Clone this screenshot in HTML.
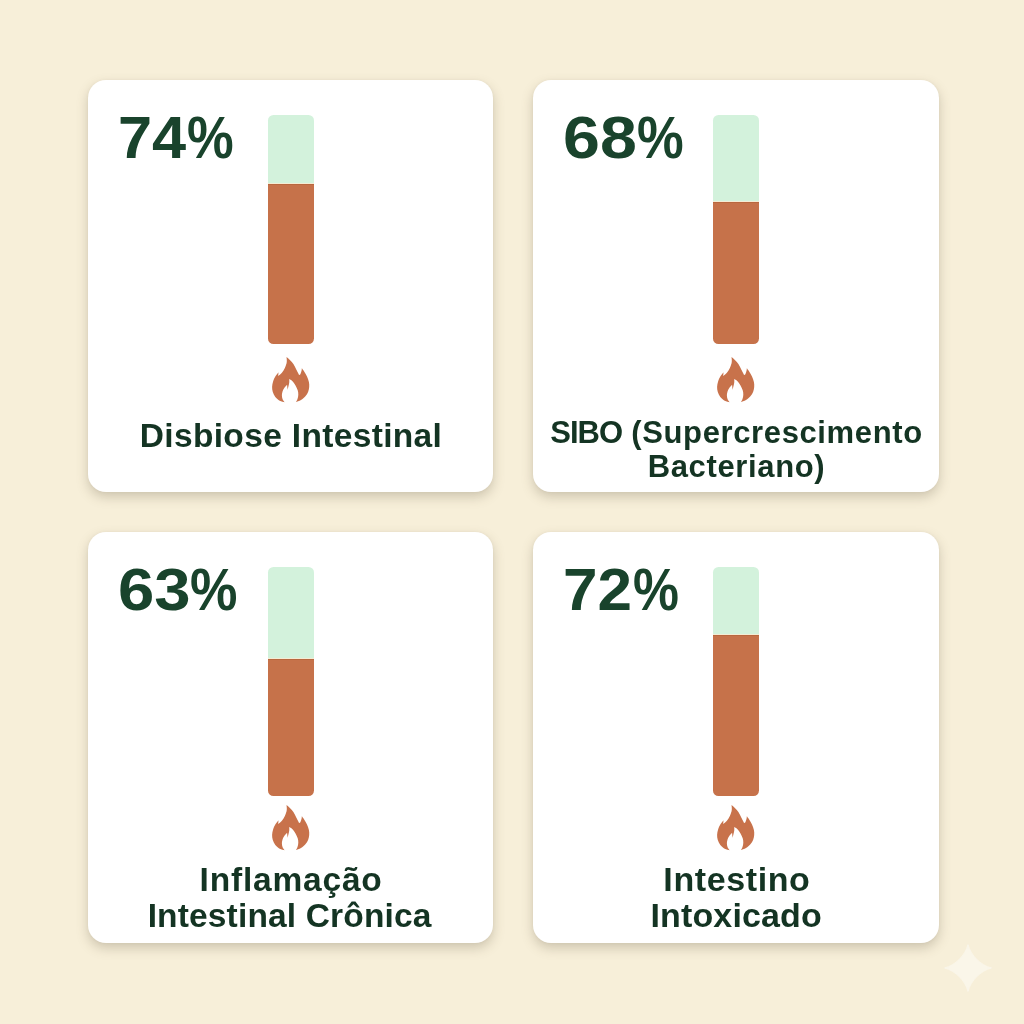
<!DOCTYPE html>
<html lang="pt-BR">
<head>
<meta charset="utf-8">
<title>Indicadores Intestinais</title>
<style>
  html, body { margin: 0; padding: 0; }
  body {
    width: 1024px; height: 1024px; overflow: hidden; position: relative;
    background: #f7efd9;
    font-family: "Liberation Sans", sans-serif;
    color: #173d29;
  }
  .card {
    position: absolute; background: #ffffff; border-radius: 18px;
    box-shadow: 0 5px 12px rgba(95, 85, 62, 0.27), 0 0 3px rgba(100, 85, 55, 0.05);
  }
  .pct {
    position: absolute; font-weight: bold; font-size: 59px; line-height: 59px;
    white-space: nowrap; color: #19432c; left: 0;
  }
  .pct span { position: absolute; top: 0; display: block; transform-origin: 0 0; }
  .bar {
    position: absolute; border-radius: 5.5px;
    background: linear-gradient(to bottom, #d3f2dc 0, #d3f2dc calc(var(--d) - 1px), #f4ecd4 calc(var(--d) - 1px), #f4ecd4 var(--d), #b9683f var(--d), #b9683f calc(var(--d) + 1px), #c6724a calc(var(--d) + 1px), #c6724a 100%);
  }
  .flame { position: absolute; width: 50px; height: 56px; }
  .flame path { fill: #c8724b; }
  .lbl {
    position: absolute; font-weight: bold; text-align: center; white-space: nowrap;
    color: #143423;
  }
  .spark { position: absolute; left: 944px; top: 944px; width: 48px; height: 48px; }
</style>
</head>
<body>

<!-- cards -->
<div class="card" style="left:88px;top:79.5px;width:405.2px;height:412.5px"></div>
<div class="card" style="left:533.1px;top:79.5px;width:406px;height:412.5px"></div>
<div class="card" style="left:88px;top:531.7px;width:405.2px;height:411.5px"></div>
<div class="card" style="left:533.1px;top:531.7px;width:406px;height:411.5px"></div>

<!-- card 1 -->
<div class="pct" id="p1" style="top:108.7px"><span style="left:118.18px;transform:scaleX(1.039)">74</span><span style="left:186.81px;transform:scaleX(0.89)">%</span></div>
<div class="bar" id="b1" style="left:268px;top:115px;width:46px;height:229px;--d:69px"></div>
<svg class="flame" id="f1" style="left:266px;top:352px" viewBox="0 0 50 56"><path d="M20.50 5.00 C21.10 5.53 22.95 7.03 24.10 8.20 C25.25 9.37 26.45 10.63 27.40 12.00 C28.35 13.37 29.03 14.93 29.80 16.40 C30.57 17.87 31.45 19.70 32.00 20.80 C32.55 21.90 32.92 22.63 33.10 23.00 C33.33 22.82 34.08 22.63 34.50 21.90 C34.92 21.17 35.38 19.53 35.60 18.60 C35.82 17.67 35.77 16.68 35.80 16.30 C36.22 16.87 37.43 18.32 38.30 19.70 C39.17 21.08 40.23 22.87 41.00 24.60 C41.77 26.33 42.53 28.37 42.90 30.10 C43.27 31.83 43.33 33.37 43.20 35.00 C43.07 36.63 42.73 38.35 42.10 39.90 C41.47 41.45 40.58 42.93 39.40 44.30 C38.22 45.67 36.60 47.10 35.00 48.10 C33.40 49.10 30.67 49.93 29.80 50.30 C30.08 49.75 31.08 48.27 31.50 47.00 C31.92 45.73 32.27 44.15 32.30 42.70 C32.33 41.25 32.17 39.85 31.70 38.30 C31.23 36.75 30.40 34.95 29.50 33.40 C28.60 31.85 27.34 30.08 26.30 29.00 C25.26 27.92 23.76 27.25 23.25 26.90 C23.25 27.52 23.39 29.33 23.25 30.60 C23.11 31.87 22.69 33.32 22.40 34.50 C22.11 35.68 21.65 37.17 21.50 37.70 C21.47 37.25 21.37 35.82 21.30 35.00 C21.23 34.18 21.13 33.17 21.10 32.80 C20.68 33.27 19.38 34.42 18.60 35.60 C17.82 36.78 16.85 38.53 16.40 39.90 C15.95 41.27 15.85 42.52 15.90 43.80 C15.95 45.08 16.25 46.52 16.70 47.60 C17.15 48.68 18.28 49.85 18.60 50.30 C17.78 50.03 15.25 49.60 13.70 48.70 C12.15 47.80 10.45 46.37 9.30 44.90 C8.15 43.43 7.33 41.55 6.80 39.90 C6.27 38.25 6.05 36.73 6.10 35.00 C6.15 33.27 6.52 31.32 7.10 29.50 C7.68 27.68 8.68 25.65 9.60 24.10 C10.52 22.55 12.10 20.85 12.60 20.20 C12.55 20.57 12.38 21.75 12.30 22.40 C12.22 23.05 12.13 23.82 12.10 24.10 C12.73 23.55 14.82 22.08 15.90 20.80 C16.98 19.52 17.83 17.95 18.60 16.40 C19.37 14.85 20.13 12.87 20.50 11.50 C20.87 10.13 20.80 9.28 20.80 8.20 C20.80 7.12 20.55 5.53 20.50 5.00 Z"/></svg>
<div class="lbl" id="l1" style="left:88.5px;width:405px;top:415.6px;font-size:33.5px;line-height:40px;letter-spacing:0.34px">Disbiose Intestinal</div>

<!-- card 2 -->
<div class="pct" id="p2" style="top:108.7px"><span style="left:563.2px;transform:scaleX(1.124)">68</span><span style="left:636.81px;transform:scaleX(0.89)">%</span></div>
<div class="bar" id="b2" style="left:713px;top:115px;width:46px;height:229px;--d:87px"></div>
<svg class="flame" id="f2" style="left:711.2px;top:352.1px" viewBox="0 0 50 56"><path d="M20.50 5.00 C21.10 5.53 22.95 7.03 24.10 8.20 C25.25 9.37 26.45 10.63 27.40 12.00 C28.35 13.37 29.03 14.93 29.80 16.40 C30.57 17.87 31.45 19.70 32.00 20.80 C32.55 21.90 32.92 22.63 33.10 23.00 C33.33 22.82 34.08 22.63 34.50 21.90 C34.92 21.17 35.38 19.53 35.60 18.60 C35.82 17.67 35.77 16.68 35.80 16.30 C36.22 16.87 37.43 18.32 38.30 19.70 C39.17 21.08 40.23 22.87 41.00 24.60 C41.77 26.33 42.53 28.37 42.90 30.10 C43.27 31.83 43.33 33.37 43.20 35.00 C43.07 36.63 42.73 38.35 42.10 39.90 C41.47 41.45 40.58 42.93 39.40 44.30 C38.22 45.67 36.60 47.10 35.00 48.10 C33.40 49.10 30.67 49.93 29.80 50.30 C30.08 49.75 31.08 48.27 31.50 47.00 C31.92 45.73 32.27 44.15 32.30 42.70 C32.33 41.25 32.17 39.85 31.70 38.30 C31.23 36.75 30.40 34.95 29.50 33.40 C28.60 31.85 27.34 30.08 26.30 29.00 C25.26 27.92 23.76 27.25 23.25 26.90 C23.25 27.52 23.39 29.33 23.25 30.60 C23.11 31.87 22.69 33.32 22.40 34.50 C22.11 35.68 21.65 37.17 21.50 37.70 C21.47 37.25 21.37 35.82 21.30 35.00 C21.23 34.18 21.13 33.17 21.10 32.80 C20.68 33.27 19.38 34.42 18.60 35.60 C17.82 36.78 16.85 38.53 16.40 39.90 C15.95 41.27 15.85 42.52 15.90 43.80 C15.95 45.08 16.25 46.52 16.70 47.60 C17.15 48.68 18.28 49.85 18.60 50.30 C17.78 50.03 15.25 49.60 13.70 48.70 C12.15 47.80 10.45 46.37 9.30 44.90 C8.15 43.43 7.33 41.55 6.80 39.90 C6.27 38.25 6.05 36.73 6.10 35.00 C6.15 33.27 6.52 31.32 7.10 29.50 C7.68 27.68 8.68 25.65 9.60 24.10 C10.52 22.55 12.10 20.85 12.60 20.20 C12.55 20.57 12.38 21.75 12.30 22.40 C12.22 23.05 12.13 23.82 12.10 24.10 C12.73 23.55 14.82 22.08 15.90 20.80 C16.98 19.52 17.83 17.95 18.60 16.40 C19.37 14.85 20.13 12.87 20.50 11.50 C20.87 10.13 20.80 9.28 20.80 8.20 C20.80 7.12 20.55 5.53 20.50 5.00 Z"/></svg>
<div class="lbl" id="l2" style="left:533.5px;width:406px;top:415.75px;font-size:31px;line-height:33.75px"><span style="letter-spacing:-1px">SIBO</span><span style="letter-spacing:0.62px"> (Supercrescimento</span><br><span style="letter-spacing:0.65px">Bacteriano)</span></div>

<!-- card 3 -->
<div class="pct" id="p3" style="top:561.3px"><span style="left:118.2px;transform:scaleX(1.105)">63</span><span style="left:190.1px;transform:scaleX(0.904)">%</span></div>
<div class="bar" id="b3" style="left:268px;top:567px;width:46px;height:229px;--d:92px"></div>
<svg class="flame" id="f3" style="left:266px;top:800.2px" viewBox="0 0 50 56"><path d="M20.50 5.00 C21.10 5.53 22.95 7.03 24.10 8.20 C25.25 9.37 26.45 10.63 27.40 12.00 C28.35 13.37 29.03 14.93 29.80 16.40 C30.57 17.87 31.45 19.70 32.00 20.80 C32.55 21.90 32.92 22.63 33.10 23.00 C33.33 22.82 34.08 22.63 34.50 21.90 C34.92 21.17 35.38 19.53 35.60 18.60 C35.82 17.67 35.77 16.68 35.80 16.30 C36.22 16.87 37.43 18.32 38.30 19.70 C39.17 21.08 40.23 22.87 41.00 24.60 C41.77 26.33 42.53 28.37 42.90 30.10 C43.27 31.83 43.33 33.37 43.20 35.00 C43.07 36.63 42.73 38.35 42.10 39.90 C41.47 41.45 40.58 42.93 39.40 44.30 C38.22 45.67 36.60 47.10 35.00 48.10 C33.40 49.10 30.67 49.93 29.80 50.30 C30.08 49.75 31.08 48.27 31.50 47.00 C31.92 45.73 32.27 44.15 32.30 42.70 C32.33 41.25 32.17 39.85 31.70 38.30 C31.23 36.75 30.40 34.95 29.50 33.40 C28.60 31.85 27.34 30.08 26.30 29.00 C25.26 27.92 23.76 27.25 23.25 26.90 C23.25 27.52 23.39 29.33 23.25 30.60 C23.11 31.87 22.69 33.32 22.40 34.50 C22.11 35.68 21.65 37.17 21.50 37.70 C21.47 37.25 21.37 35.82 21.30 35.00 C21.23 34.18 21.13 33.17 21.10 32.80 C20.68 33.27 19.38 34.42 18.60 35.60 C17.82 36.78 16.85 38.53 16.40 39.90 C15.95 41.27 15.85 42.52 15.90 43.80 C15.95 45.08 16.25 46.52 16.70 47.60 C17.15 48.68 18.28 49.85 18.60 50.30 C17.78 50.03 15.25 49.60 13.70 48.70 C12.15 47.80 10.45 46.37 9.30 44.90 C8.15 43.43 7.33 41.55 6.80 39.90 C6.27 38.25 6.05 36.73 6.10 35.00 C6.15 33.27 6.52 31.32 7.10 29.50 C7.68 27.68 8.68 25.65 9.60 24.10 C10.52 22.55 12.10 20.85 12.60 20.20 C12.55 20.57 12.38 21.75 12.30 22.40 C12.22 23.05 12.13 23.82 12.10 24.10 C12.73 23.55 14.82 22.08 15.90 20.80 C16.98 19.52 17.83 17.95 18.60 16.40 C19.37 14.85 20.13 12.87 20.50 11.50 C20.87 10.13 20.80 9.28 20.80 8.20 C20.80 7.12 20.55 5.53 20.50 5.00 Z"/></svg>
<div class="lbl" id="l3" style="left:88px;width:405px;top:861.5px;font-size:33.5px;line-height:36.75px"><span style="letter-spacing:0.8px;position:relative;left:0.6px">Inflamação</span><br><span style="letter-spacing:0.16px;position:relative;left:-0.9px">Intestinal Crônica</span></div>

<!-- card 4 -->
<div class="pct" id="p4" style="top:561.3px"><span style="left:563.45px;transform:scaleX(1.052)">72</span><span style="left:632.82px;transform:scaleX(0.876)">%</span></div>
<div class="bar" id="b4" style="left:713px;top:567px;width:46px;height:229px;--d:68.5px"></div>
<svg class="flame" id="f4" style="left:711.2px;top:800.3px" viewBox="0 0 50 56"><path d="M20.50 5.00 C21.10 5.53 22.95 7.03 24.10 8.20 C25.25 9.37 26.45 10.63 27.40 12.00 C28.35 13.37 29.03 14.93 29.80 16.40 C30.57 17.87 31.45 19.70 32.00 20.80 C32.55 21.90 32.92 22.63 33.10 23.00 C33.33 22.82 34.08 22.63 34.50 21.90 C34.92 21.17 35.38 19.53 35.60 18.60 C35.82 17.67 35.77 16.68 35.80 16.30 C36.22 16.87 37.43 18.32 38.30 19.70 C39.17 21.08 40.23 22.87 41.00 24.60 C41.77 26.33 42.53 28.37 42.90 30.10 C43.27 31.83 43.33 33.37 43.20 35.00 C43.07 36.63 42.73 38.35 42.10 39.90 C41.47 41.45 40.58 42.93 39.40 44.30 C38.22 45.67 36.60 47.10 35.00 48.10 C33.40 49.10 30.67 49.93 29.80 50.30 C30.08 49.75 31.08 48.27 31.50 47.00 C31.92 45.73 32.27 44.15 32.30 42.70 C32.33 41.25 32.17 39.85 31.70 38.30 C31.23 36.75 30.40 34.95 29.50 33.40 C28.60 31.85 27.34 30.08 26.30 29.00 C25.26 27.92 23.76 27.25 23.25 26.90 C23.25 27.52 23.39 29.33 23.25 30.60 C23.11 31.87 22.69 33.32 22.40 34.50 C22.11 35.68 21.65 37.17 21.50 37.70 C21.47 37.25 21.37 35.82 21.30 35.00 C21.23 34.18 21.13 33.17 21.10 32.80 C20.68 33.27 19.38 34.42 18.60 35.60 C17.82 36.78 16.85 38.53 16.40 39.90 C15.95 41.27 15.85 42.52 15.90 43.80 C15.95 45.08 16.25 46.52 16.70 47.60 C17.15 48.68 18.28 49.85 18.60 50.30 C17.78 50.03 15.25 49.60 13.70 48.70 C12.15 47.80 10.45 46.37 9.30 44.90 C8.15 43.43 7.33 41.55 6.80 39.90 C6.27 38.25 6.05 36.73 6.10 35.00 C6.15 33.27 6.52 31.32 7.10 29.50 C7.68 27.68 8.68 25.65 9.60 24.10 C10.52 22.55 12.10 20.85 12.60 20.20 C12.55 20.57 12.38 21.75 12.30 22.40 C12.22 23.05 12.13 23.82 12.10 24.10 C12.73 23.55 14.82 22.08 15.90 20.80 C16.98 19.52 17.83 17.95 18.60 16.40 C19.37 14.85 20.13 12.87 20.50 11.50 C20.87 10.13 20.80 9.28 20.80 8.20 C20.80 7.12 20.55 5.53 20.50 5.00 Z"/></svg>
<div class="lbl" id="l4" style="left:533px;width:406px;top:860.6px;font-size:34px;line-height:36.75px"><span style="letter-spacing:0.6px;position:relative;left:0.9px">Intestino</span><br><span style="letter-spacing:0.15px;position:relative;left:0.2px">Intoxicado</span></div>

<!-- sparkle -->
<svg class="spark" viewBox="-0.5 -0.5 49 49"><path d="M24 0 C26.6 11 37 21.4 48 24 C37 26.6 26.6 37 24 48 C21.4 37 11 26.6 0 24 C11 21.4 21.4 11 24 0 Z" fill="#faf6e9" stroke="#faf6e9" stroke-width="1" stroke-linejoin="round"/></svg>

</body>
</html>
